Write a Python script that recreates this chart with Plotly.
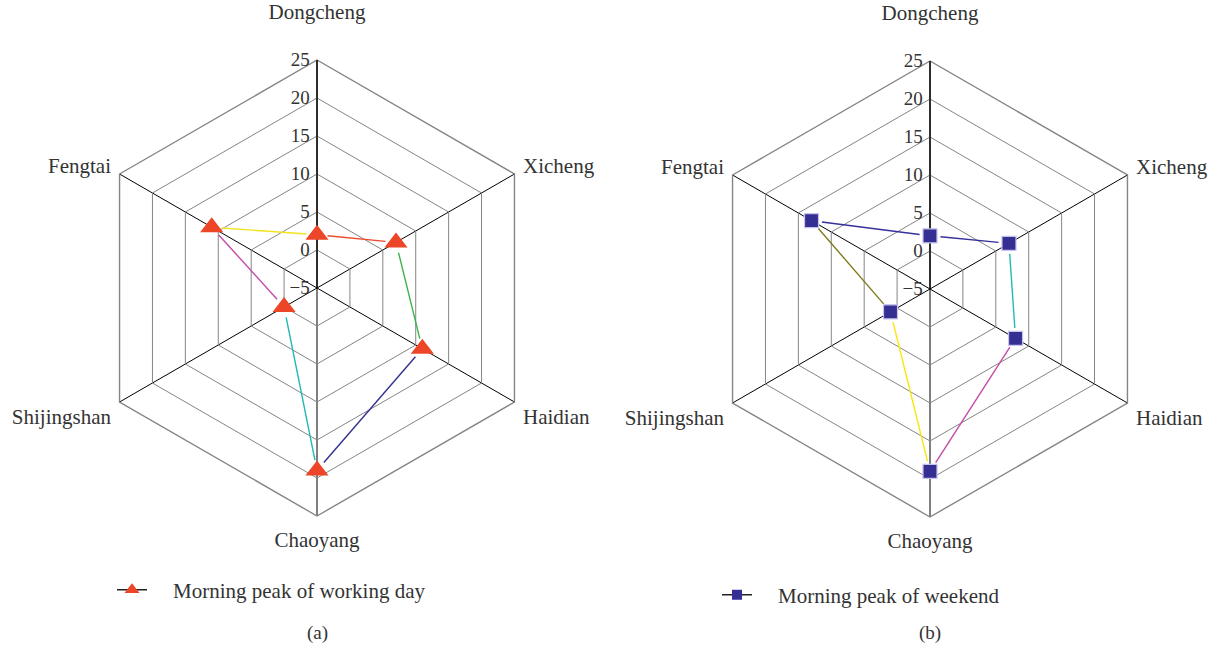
import numpy as np
import plotly.graph_objects as go

# Districts in clockwise order starting from the top spoke
districts = ["Dongcheng", "Xicheng", "Haidian", "Chaoyang", "Shijingshan", "Fengtai"]
# The top label gets an empty second line so it clears the radial tick labels
district_labels = ["Dongcheng<br> ", "Xicheng", "Haidian", "Chaoyang", "Shijingshan", "Fengtai"]

# Morning peak values per district
working_day = [2, 7, 11, 19, 0, 11]
weekend = [2, 7, 8, 19, 1, 13]

# Radial scale
r_min, r_max = -5, 25
radial_ticks = [-5, 0, 5, 10, 15, 20, 25]
radial_tick_text = ["\u22125", "0", "5", "10", "15", "20", "25"]

# Colour of each connecting segment (district i -> district i+1)
working_seg_colors = ["#ef4a2c", "#3db24a", "#33308f", "#1fbab3", "#c44aa6", "#f2e41c"]
weekend_seg_colors = ["#34309a", "#1fbab3", "#c44aa6", "#f7e816", "#807a1c", "#34309a"]

W, H = 1220, 647
FONT = "Liberation Serif, Times New Roman, serif"
R = 228          # polar radius in px
GAP_PX = 10.5    # connecting lines stop this far from each marker centre

# spoke angle of each district, clockwise from the top
spoke_deg = [i * 360 / len(districts) for i in range(len(districts))]


def domain(cx, cy, r=R):
    return dict(x=[(cx - r) / W, (cx + r) / W], y=[1 - (cy + r) / H, 1 - (cy - r) / H])


fig = go.Figure()


def trimmed_segment(v0, v1, a0, a1):
    """Endpoints of the segment between two radar points, pulled in from both ends."""
    gap = GAP_PX * (r_max - r_min) / R
    rho0, rho1 = v0 - r_min, v1 - r_min
    p0 = np.array([rho0 * np.sin(np.radians(a0)), rho0 * np.cos(np.radians(a0))])
    p1 = np.array([rho1 * np.sin(np.radians(a1)), rho1 * np.cos(np.radians(a1))])
    d = p1 - p0
    u = d / np.linalg.norm(d)
    q0, q1 = p0 + u * gap, p1 - u * gap
    rs = [np.hypot(*q) + r_min for q in (q0, q1)]
    ts = [np.degrees(np.arctan2(q[0], q[1])) for q in (q0, q1)]
    return rs, ts


def add_series(values, seg_colors, subplot, line_subplot, name, symbol, mcolor, msize,
               mline, legend, lsize):
    n = len(districts)
    for i in range(n):
        j = (i + 1) % n
        rs, ts = trimmed_segment(values[i], values[j], spoke_deg[i], spoke_deg[j])
        fig.add_trace(go.Scatterpolar(
            r=rs, theta=ts, mode="lines", line=dict(color=seg_colors[i], width=1.4),
            subplot=line_subplot, showlegend=False, hoverinfo="skip"))
    fig.add_trace(go.Scatterpolar(
        r=values, theta=spoke_deg, mode="markers", subplot=line_subplot, showlegend=False,
        cliponaxis=False, text=districts, hovertemplate="%{text}: %{r}<extra></extra>",
        marker=dict(symbol=symbol, size=msize, color=mcolor, line=mline)))
    # legend entry: dark line with the series marker
    fig.add_trace(go.Scatterpolar(
        r=[None], theta=[districts[0]], mode="lines+markers", name=name, subplot=subplot,
        legend=legend, line=dict(color="#222222", width=1.5),
        marker=dict(symbol=symbol, size=lsize, color=mcolor)))


NB = "\u00a0\u00a0\u00a0\u00a0"
add_series(working_day, working_seg_colors, "polar", "polar3", NB + "Morning peak of working day",
           "triangle-up", "#ec4527", 20, dict(width=0), "legend", 13)
add_series(weekend, weekend_seg_colors, "polar2", "polar4", NB + "Morning peak of weekend",
           "square", "#352f93", 14, dict(color="#c6c2ea", width=1.2), "legend2", 10)

polar_common = dict(
    gridshape="linear",
    bgcolor="white",
    radialaxis=dict(
        range=[r_min, r_max], tickvals=radial_ticks, ticktext=radial_tick_text,
        angle=90, side="counterclockwise", tickangle=90, ticks="",
        showline=True, linecolor="black", linewidth=1.3,
        gridcolor="#858585", gridwidth=1.4,
        tickfont=dict(family=FONT, size=19, color="#333333"),
    ),
    angularaxis=dict(
        categoryarray=districts, categoryorder="array",
        tickmode="array", tickvals=districts, ticktext=district_labels,
        direction="clockwise", rotation=90,
        showline=True, linecolor="#858585", linewidth=1.4,
        gridcolor="black", gridwidth=1.3,
        ticks="outside", ticklen=5, tickcolor="rgba(0,0,0,0)",
        tickfont=dict(family=FONT, size=21, color="#333333"),
    ),
)

# transparent overlay sharing the same radial scale, carrying the series
overlay = dict(
    bgcolor="rgba(0,0,0,0)",
    radialaxis=dict(range=[r_min, r_max], visible=False),
    angularaxis=dict(type="linear", thetaunit="degrees", direction="clockwise", rotation=90,
                     visible=False),
)

fig.update_layout(
    width=W, height=H,
    margin=dict(l=0, r=0, t=0, b=0),
    paper_bgcolor="white", plot_bgcolor="white",
    polar=dict(domain=domain(317, 288), **polar_common),
    polar2=dict(domain=domain(930, 289), **polar_common),
    polar3=dict(domain=domain(317, 288), **overlay),
    polar4=dict(domain=domain(930, 289), **overlay),
    legend=dict(x=112 / W, y=1 - 590 / H, xanchor="left", yanchor="middle",
                font=dict(family=FONT, size=21, color="#333333"), bgcolor="rgba(0,0,0,0)"),
    legend2=dict(x=717 / W, y=1 - 595 / H, xanchor="left", yanchor="middle",
                 font=dict(family=FONT, size=21, color="#333333"), bgcolor="rgba(0,0,0,0)"),
    annotations=[
        dict(text="(a)", x=317 / W, y=1 - 633 / H, xref="paper", yref="paper",
             xanchor="center", yanchor="middle",
             showarrow=False, font=dict(family=FONT, size=19, color="#333333")),
        dict(text="(b)", x=930 / W, y=1 - 633 / H, xref="paper", yref="paper",
             xanchor="center", yanchor="middle",
             showarrow=False, font=dict(family=FONT, size=19, color="#333333")),
    ],
)

fig.write_html("out.html")
